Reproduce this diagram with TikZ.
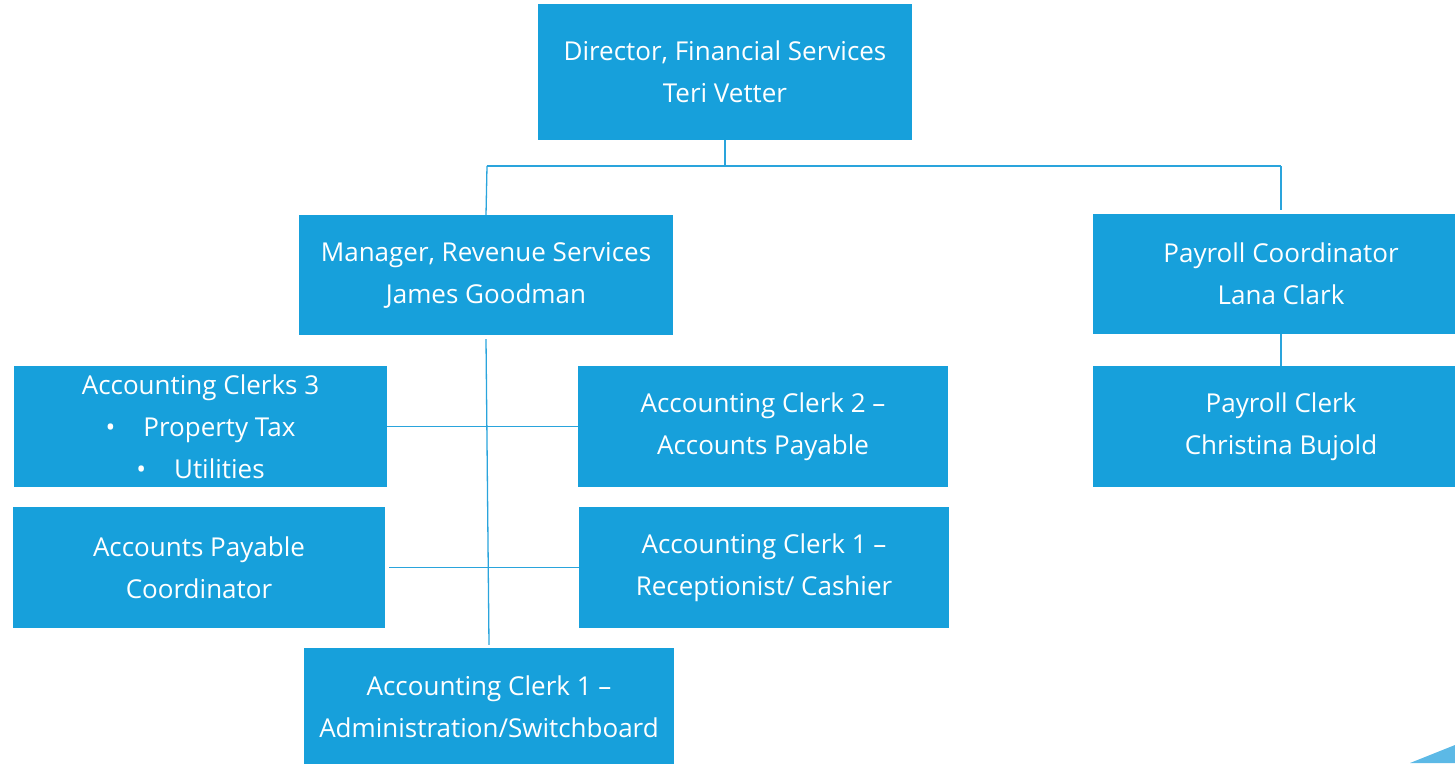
\documentclass[tikz,border=0pt]{standalone}
\usepackage{fontspec}
\setmainfont{Open Sans}
\definecolor{boxblue}{HTML}{17A0DB}
\definecolor{lineblue}{HTML}{2AA4DC}
\definecolor{wedge}{HTML}{5CB9E6}
\begin{document}
\begin{tikzpicture}[x=1pt,y=-1pt,
  orgbox/.style={fill=boxblue, draw=none, text=white, align=center,
    inner sep=0pt, font=\fontsize{26}{42}\selectfont},
  conn/.style={draw=lineblue, line width=1.3pt}]
\useasboundingbox (0,0) rectangle (1455,763);
\node[orgbox, minimum width=374pt, minimum height=136pt] (dir) at (725,72) {Director, Financial Services\\Teri Vetter};
\node[orgbox, minimum width=374pt, minimum height=120pt] (mgr) at (486,275) {Manager, Revenue Services\\James Goodman};
\node[orgbox, minimum width=376pt, minimum height=120pt] (payc) at (1281,274) {Payroll Coordinator\\Lana Clark};
\node[orgbox, minimum width=376pt, minimum height=121pt] (payk) at (1281,426.5) {Payroll Clerk\\Christina Bujold};
\node[orgbox, minimum width=373pt, minimum height=121pt] (ac3) at (200.5,426.5) {Accounting Clerks 3\\•\hspace{28pt}Property Tax\\•\hspace{28pt}Utilities};
\node[orgbox, minimum width=370pt, minimum height=121pt] (ac2) at (763,426.5) {Accounting Clerk 2 –\\Accounts Payable};
\node[orgbox, minimum width=372pt, minimum height=121pt] (apc) at (199,567.5) {Accounts Payable\\Coordinator};
\node[orgbox, minimum width=370pt, minimum height=121pt] (ac1r) at (764,567.5) {Accounting Clerk 1 –\\Receptionist/ Cashier};
\node[orgbox, minimum width=370pt, minimum height=118pt] (ac1a) at (489,707) {Accounting Clerk 1 –\\Administration/Switchboard};
\coordinate (busL) at (487,166);
\coordinate (busR) at (1281,166);
\draw[conn] (dir.south) -- (dir.south |- busL);
\draw[conn] (busL) -- (busR);
\draw[conn] (busL) -- (mgr.north);
\draw[conn] (busR) -- ([yshift=4pt]payc.north);
\draw[conn] (payc.south) -- (payk.north);
\draw[conn] ([yshift=-4pt]mgr.south) -- ([yshift=3pt]ac1a.north);
\draw[conn] (ac3.east) -- (ac2.west);
\draw[conn] ([xshift=4pt]apc.east) -- (ac1r.west);
\fill[wedge] (1410,763) -- (1455,745) -- (1455,763) -- cycle;
\end{tikzpicture}
\end{document}
